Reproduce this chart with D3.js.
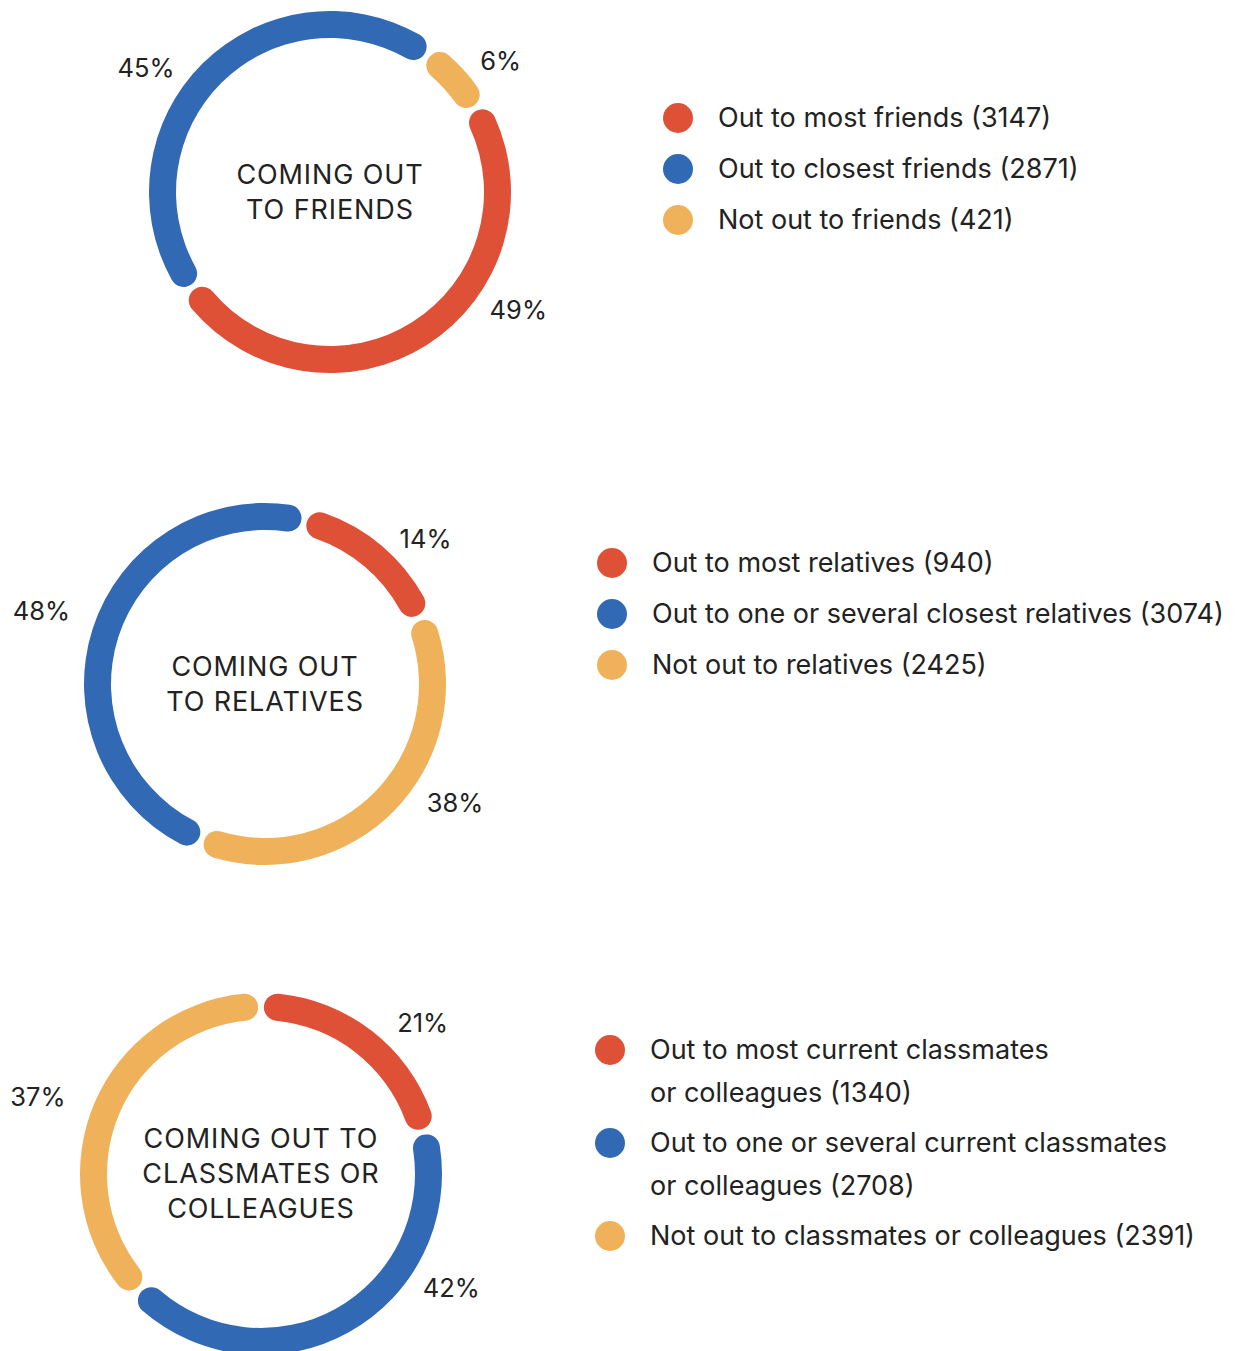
<!DOCTYPE html>
<html>
<head>
<meta charset="utf-8">
<script src="https://cdn.jsdelivr.net/npm/d3@7"></script>
<style>
  body { margin: 0; background: #fff; }
  svg text { font-family: Inter, "Noto Sans", sans-serif; fill: #222; }
</style>
</head>
<body>
<svg width="1235" height="1351"></svg>
<script>
// Data (respondent counts and printed percents)
var friendsLabels = ["Out to most friends", "Out to closest friends", "Not out to friends"];
var friendsCounts = [3147, 2871, 421];
var friendsPct = ["49%", "45%", "6%"];

var relativesLabels = ["Out to most relatives", "Out to one or several closest relatives", "Not out to relatives"];
var relativesCounts = [940, 3074, 2425];
var relativesPct = ["14%", "48%", "38%"];

var classmatesLabels = [["Out to most current classmates", "or colleagues"],
                        ["Out to one or several current classmates", "or colleagues"],
                        ["Not out to classmates or colleagues"]];
var classmatesCounts = [1340, 2708, 2391];
var classmatesPct = ["21%", "42%", "37%"];

var colors = ["#DE5137", "#3169B5", "#EFB25A"];

// Set svg
var svg = d3.select("svg");

var rad = Math.PI / 180;

// layout for each donut: center, ring order, rotation, label angles, legend place
var charts = [
  { title: ["COMING OUT", "TO FRIENDS"], labels: friendsLabels.map(function(d) { return [d]; }),
    counts: friendsCounts, pct: friendsPct,
    cx: 330, cy: 192, order: [0, 1, 2], start: 60,
    labelAngle: [122, 304, 52.5], labelR: [222, 222, 215],
    legendX: 678, legendY: 118 },
  { title: ["COMING OUT", "TO RELATIVES"], labels: relativesLabels.map(function(d) { return [d]; }),
    counts: relativesCounts, pct: relativesPct,
    cx: 265, cy: 684, order: [0, 2, 1], start: 13.5,
    labelAngle: [48, 288, 122], labelR: [216, 235, 224],
    legendX: 612, legendY: 563 },
  { title: ["COMING OUT TO", "CLASSMATES OR", "COLLEAGUES"], labels: classmatesLabels,
    counts: classmatesCounts, pct: classmatesPct,
    cx: 261, cy: 1174, order: [0, 1, 2], start: 0,
    labelAngle: [47, 121, 289], labelR: [221, 222, 236],
    legendX: 610, legendY: 1050 }
];

var arc = d3.arc()
    .innerRadius(154)
    .outerRadius(181)
    .cornerRadius(13.5);

charts.forEach(function(c) {
  var g = svg.append("g")
      .attr("transform", "translate(" + c.cx + "," + c.cy + ")");

  var items = c.order.map(function(i) {
    return { i: i, value: c.counts[i] };
  });

  var pie = d3.pie()
      .sort(null)
      .value(function(d) { return d.value; })
      .startAngle(c.start * rad)
      .endAngle(c.start * rad + 2 * Math.PI)
      .padAngle(0.024);

  g.selectAll("path")
    .data(pie(items))
    .enter().append("path")
      .attr("d", arc)
      .attr("fill", function(d) { return colors[d.data.i]; });

  // percent labels round the ring
  g.selectAll("text.pct")
    .data(c.pct)
    .enter().append("text")
      .attr("class", "pct")
      .attr("x", function(d, i) { return Math.sin(c.labelAngle[i] * rad) * c.labelR[i]; })
      .attr("y", function(d, i) { return -Math.cos(c.labelAngle[i] * rad) * c.labelR[i]; })
      .attr("dy", "0.35em")
      .attr("text-anchor", "middle")
      .attr("font-size", 25.5)
      .text(function(d) { return d; });

  // title in the middle
  var n = c.title.length;
  g.selectAll("text.title")
    .data(c.title)
    .enter().append("text")
      .attr("class", "title")
      .attr("x", 0)
      .attr("y", function(d, i) { return (i - (n - 1) / 2) * 35; })
      .attr("dy", "0.35em")
      .attr("text-anchor", "middle")
      .attr("font-size", 27)
      .attr("letter-spacing", 0.9)
      .text(function(d) { return d; });

  // legend
  var lg = svg.append("g")
      .attr("transform", "translate(" + c.legendX + "," + c.legendY + ")");
  var y = 0;
  c.labels.forEach(function(lines, i) {
    lg.append("circle")
      .attr("cx", 0)
      .attr("cy", y)
      .attr("r", 15)
      .attr("fill", colors[i]);
    lines.forEach(function(line, j) {
      var last = j === lines.length - 1;
      lg.append("text")
        .attr("x", 40)
        .attr("y", y)
        .attr("dy", "0.35em")
        .attr("font-size", 27)
        .text(last ? line + " (" + c.counts[i] + ")" : line);
      if (!last) y += 43;
    });
    y += 51 - (lines.length > 1 ? 1 : 0);
  });
});
</script>
</body>
</html>
